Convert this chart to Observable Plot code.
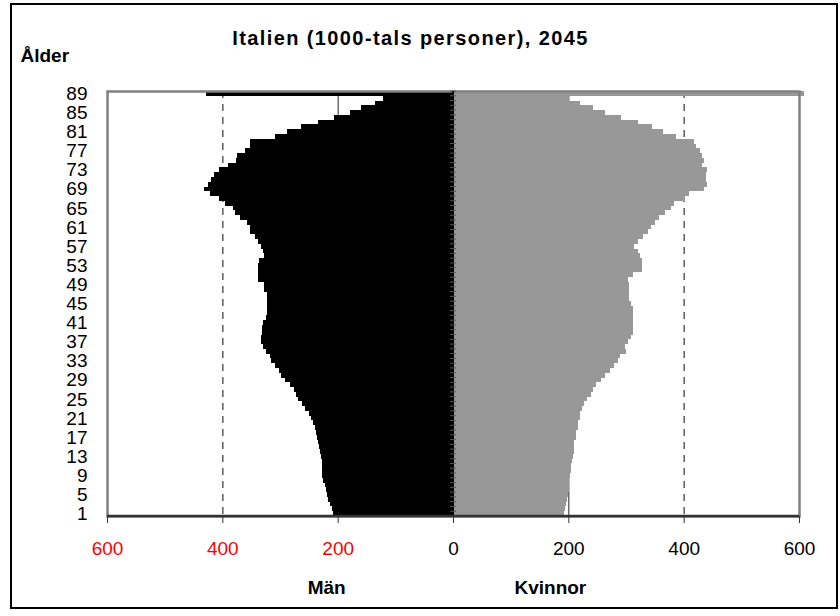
<!DOCTYPE html>
<html><head><meta charset="utf-8">
<script src="https://cdn.jsdelivr.net/npm/d3@7"></script>
<script src="https://cdn.jsdelivr.net/npm/@observablehq/plot@0.6"></script>
<style>
body{margin:0;background:#fff;font-family:"Liberation Sans",Arial,sans-serif;}
#wrap{position:relative;width:840px;height:616px;}
#border{position:absolute;left:10px;top:3px;width:828px;height:606px;border:2px solid #000;box-sizing:border-box;pointer-events:none;}
</style></head><body>
<div id="wrap"><div id="border"></div></div>
<script>
const ages = d3.range(1, 90);
const men = [208,210,214,217,219,221,222,225,227,227,227,227,229,231,233,234,235,238,240,243,
  247,250,257,262,268,272,276,283,292,298,302,309,315,318,324,329,333,333,332,332,
  329,325,322,322,322,322,322,327,327,338,338,338,338,337,327,329,333,338,344,352,
  352,358,370,378,381,396,405,422,432,424,419,414,406,391,376,374,361,352,352,309,
  287,264,234,206,179,160,136,121,428];
const women = [192,194,196,198,200,201,202,202,203,204,205,206,208,209,209,210,213,214,216,217,
  220,221,224,228,233,240,243,248,257,263,273,280,286,289,300,298,303,309,312,312,
  312,312,312,312,309,305,305,305,305,303,312,328,327,327,325,321,314,321,329,338,
  344,350,358,367,378,384,403,410,436,441,438,438,441,431,436,431,429,422,418,387,
  364,345,321,292,263,243,220,202,608];
const xTicks = [-600,-400,-200,0,200,400,600];
const yTickLabels = ages.filter(a => (a - 1) % 4 === 0);
const title = "Italien (1000-tals personer), 2045";
const yTitle = "Ålder";
const menLabel = "Män";
const womenLabel = "Kvinnor";

const rows = ages.map((a, i) => ({age: a, men: men[i], women: women[i]}));
const font = "Liberation Sans, Arial, sans-serif";

const chart = Plot.plot({
  width: 840, height: 616,
  marginLeft: 107, marginRight: 41, marginTop: 91, marginBottom: 100,
  style: {fontFamily: font, background: "transparent", overflow: "visible"},
  x: {domain: [-600, 600], axis: null},
  y: {type: "band", domain: ages.slice().reverse(), padding: 0, axis: null},
  marks: [
    Plot.ruleX([-200, 200], {stroke: "#222", strokeWidth: 1}),
    Plot.ruleX([-400, 400], {stroke: "#444", strokeWidth: 1.3, strokeDasharray: "7,6"}),
    Plot.barX(rows, {y: "age", x1: () => 0, x2: d => -d.men, fill: "#000", shapeRendering: "crispEdges"}),
    Plot.barX(rows, {y: "age", x1: () => 0, x2: "women", fill: "#989898", shapeRendering: "crispEdges"}),
    Plot.frame({stroke: "#808080", strokeWidth: 2.5}),
    (index, scales, values, dim) => {
      const g = d3.create("svg:g");
      const x0 = scales.x(0);
      g.append("line").attr("x1", x0).attr("x2", x0)
        .attr("y1", dim.marginTop).attr("y2", dim.height - dim.marginBottom)
        .attr("stroke", "#000").attr("stroke-width", 2);
      for (const a of ages) {
        const yy = scales.y(a);
        g.append("line").attr("x1", x0 - 3).attr("x2", x0 + 3)
          .attr("y1", yy).attr("y2", yy).attr("stroke", "#555").attr("stroke-width", 1);
      }
      g.append("line").attr("x1", dim.marginLeft).attr("x2", dim.width - dim.marginRight)
        .attr("y1", dim.height - dim.marginBottom).attr("y2", dim.height - dim.marginBottom)
        .attr("stroke", "#333").attr("stroke-width", 2.5);
      return g.node();
    },
    Plot.axisX(xTicks, {tickSize: 7, tickFormat: () => "", stroke: "#333", label: null}),
    Plot.text(xTicks.filter(d => d < 0), {x: d => d, text: d => String(Math.abs(d)), frameAnchor: "bottom", lineAnchor: "middle", dy: 32, fill: "#ff0000", fontSize: 19}),
    Plot.text(xTicks.filter(d => d >= 0), {x: d => d, text: d => String(Math.abs(d)), frameAnchor: "bottom", lineAnchor: "middle", dy: 32, fill: "#000", fontSize: 19}),
    Plot.text(yTickLabels, {y: d => d, text: d => String(d), frameAnchor: "left", textAnchor: "end", lineAnchor: "middle", dx: -20, fontSize: 19, fill: "#000"}),
    Plot.text([title], {text: d => d, frameAnchor: "top", lineAnchor: "middle", dx: -43, dy: -53, fontSize: 20, fontWeight: "bold", fill: "#000"}),
    Plot.text([yTitle], {text: d => d, frameAnchor: "top-left", textAnchor: "start", lineAnchor: "middle", dx: -87, dy: -36, fontSize: 19, fontWeight: "bold", fill: "#000"}),
    Plot.text([menLabel], {x: () => -220, text: d => d, frameAnchor: "bottom", lineAnchor: "middle", dy: 71, fontSize: 19, fontWeight: "bold", fill: "#000"}),
    Plot.text([womenLabel], {x: () => 168, text: d => d, frameAnchor: "bottom", lineAnchor: "middle", dy: 71, fontSize: 19, fontWeight: "bold", fill: "#000"})
  ]
});
d3.select(chart).selectAll("text").filter(function() { return this.textContent === title; })
  .attr("letter-spacing", "1.4px");
document.getElementById("wrap").appendChild(chart);
</script>
</body></html>
